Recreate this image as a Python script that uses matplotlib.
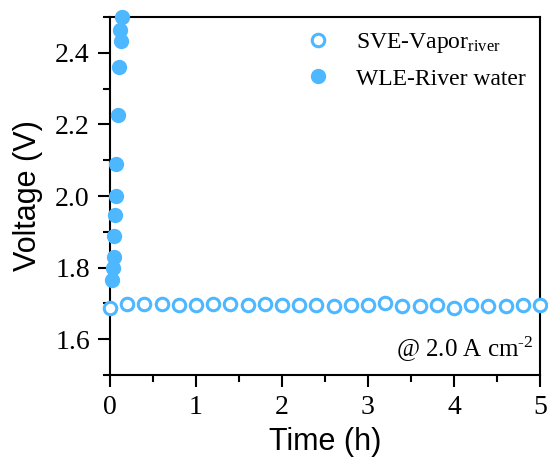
import numpy as np
import matplotlib.pyplot as plt
from matplotlib.ticker import MultipleLocator

# SVE-Vapor(river): hollow markers every 0.2 h
t_sve = [0.0, 0.2, 0.4, 0.6, 0.8, 1.0, 1.2, 1.4, 1.6, 1.8, 2.0, 2.2, 2.4,
         2.6, 2.8, 3.0, 3.2, 3.4, 3.6, 3.8, 4.0, 4.2, 4.4, 4.6, 4.8, 5.0]
v_sve = [1.688, 1.697, 1.698, 1.697, 1.696, 1.696, 1.697, 1.697, 1.696,
         1.697, 1.696, 1.695, 1.695, 1.693, 1.696, 1.696, 1.700, 1.694,
         1.694, 1.695, 1.686, 1.695, 1.694, 1.694, 1.695, 1.695]

# WLE-River water: rapid rise in the first minutes
t_wle = [0.018, 0.03, 0.045, 0.045, 0.06, 0.075, 0.07, 0.09, 0.105,
         0.128, 0.116, 0.136]
v_wle = [1.765, 1.800, 1.830, 1.888, 1.947, 2.000, 2.090, 2.227, 2.361,
         2.434, 2.463, 2.500]

blue = "#4db8ff"

plt.rcParams["mathtext.fontset"] = "custom"
plt.rcParams["mathtext.rm"] = "Liberation Serif"
plt.rcParams["mathtext.it"] = "Liberation Serif"

fig = plt.figure(figsize=(5.48, 4.61), dpi=100)
ax = fig.add_axes([110 / 548, 1 - 375 / 461, 430 / 548, 358 / 461])

ax.plot(t_sve, v_sve, "o", ms=9, mfc="white", mec=blue, mew=2.2,
        label=r"SVE-Vapor$_{\mathrm{river}}$", clip_on=False, zorder=3)
ax.plot(t_wle, v_wle, "o", ms=10, color=blue, mec=blue,
        label="WLE-River water", clip_on=False, zorder=3)

ax.set_xlim(0, 5)
ax.set_ylim(1.5, 2.5)
ax.xaxis.set_major_locator(MultipleLocator(1))
ax.xaxis.set_minor_locator(MultipleLocator(0.5))
ax.yaxis.set_major_locator(MultipleLocator(0.2))
ax.yaxis.set_minor_locator(MultipleLocator(0.1))
ax.set_yticks([1.6, 1.8, 2.0, 2.2, 2.4])

for s in ax.spines.values():
    s.set_linewidth(1.5)
ax.tick_params(which="major", direction="out", length=8.5, width=1.5,
               labelsize=20, pad=3)
ax.tick_params(which="minor", direction="out", length=5, width=1.5)
ax.tick_params(axis="y", which="major", pad=6)
ax.tick_params(axis="x", which="major", pad=6)
for lbl in ax.get_xticklabels() + ax.get_yticklabels():
    lbl.set_fontfamily("Liberation Serif")

ax.set_xlabel("Time (h)", fontsize=22, family="Liberation Sans", labelpad=5)
ax.set_ylabel("Voltage (V)", fontsize=22, family="Liberation Sans", labelpad=9)

ax.legend(loc="upper right", frameon=False, handletextpad=0.6,
          prop={"family": "Liberation Serif", "size": 17},
          borderaxespad=0.2, labelspacing=0.55)

ax.text(0.985, 0.03, r"@ 2.0 A cm$^{\text{-}2}$", transform=ax.transAxes,
        ha="right", va="bottom", fontsize=18, family="Liberation Serif")

fig.savefig("out.png", dpi=100)
